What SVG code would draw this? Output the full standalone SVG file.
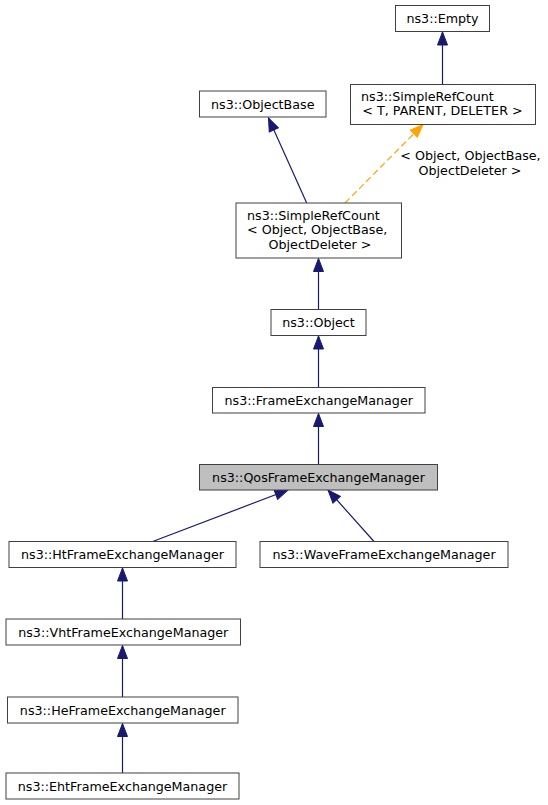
<svg xmlns="http://www.w3.org/2000/svg" width="548" height="805" viewBox="0 0 548 805">
<style>
.box{fill:#ffffff;stroke:#404040;stroke-width:1}
.hl{fill:#bfbfbf;stroke:#404040;stroke-width:1}
text{font-family:"DejaVu Sans","Noto Sans",sans-serif;font-size:12.7px;fill:#000000}
.m{text-anchor:middle}
.s{text-anchor:start}
.e{fill:none;stroke:#191970;stroke-width:1.2}
.d{fill:none;stroke:#ffa500;stroke-width:1.2;stroke-dasharray:6.5,3.5}
</style>
<defs>
<marker id="ab" markerUnits="userSpaceOnUse" markerWidth="14" markerHeight="12" refX="13" refY="5" orient="auto" viewBox="0 0 14 10" overflow="visible">
<path d="M0,0 L13,5 L0,10 z" fill="#191970" stroke="#191970" stroke-width="1"/>
</marker>
<marker id="ao" markerUnits="userSpaceOnUse" markerWidth="14" markerHeight="12" refX="13" refY="5" orient="auto" viewBox="0 0 14 10" overflow="visible">
<path d="M0,0 L13,5 L0,10 z" fill="#ffa500" stroke="#ffa500" stroke-width="1"/>
</marker>
</defs>
<g id="connectors">
<line class="e" x1="442.5" y1="84.5" x2="442.5" y2="32" marker-end="url(#ab)"/>
<line class="e" x1="306.7" y1="203" x2="268.5" y2="118" marker-end="url(#ab)"/>
<line class="d" x1="345" y1="203" x2="423" y2="124.5" marker-end="url(#ao)"/>
<text class="m" x="470.5" y="160">&lt; Object, ObjectBase,</text>
<text class="m" x="470" y="174.5">ObjectDeleter &gt;</text>
<line class="e" x1="318.5" y1="309.5" x2="318.5" y2="258.5" marker-end="url(#ab)"/>
<line class="e" x1="318.5" y1="387.5" x2="318.5" y2="336" marker-end="url(#ab)"/>
<line class="e" x1="318.5" y1="464.5" x2="318.5" y2="413.5" marker-end="url(#ab)"/>
<line class="e" x1="152.7" y1="541.5" x2="288" y2="490" marker-end="url(#ab)"/>
<line class="e" x1="374" y1="541.5" x2="328" y2="490" marker-end="url(#ab)"/>
<line class="e" x1="122.5" y1="619" x2="122.5" y2="568" marker-end="url(#ab)"/>
<line class="e" x1="122.5" y1="697" x2="122.5" y2="645.5" marker-end="url(#ab)"/>
<line class="e" x1="122.5" y1="773" x2="122.5" y2="723.5" marker-end="url(#ab)"/>
</g>
<g id="node-empty">
<rect class="box" x="395.5" y="5.5" width="94" height="26"/>
<text class="m" x="442.5" y="23">ns3::Empty</text>
</g>
<g id="node-simplerefcount-t">
<rect class="box" x="350.5" y="84.5" width="185" height="40"/>
<text class="s" x="361" y="100.5">ns3::SimpleRefCount</text>
<text class="m" x="442.5" y="115">&lt; T, PARENT, DELETER &gt;</text>
</g>
<g id="node-objectbase">
<rect class="box" x="199.5" y="91" width="126.5" height="26"/>
<text class="m" x="262.75" y="108.5">ns3::ObjectBase</text>
</g>
<g id="node-simplerefcount-object">
<rect class="box" x="236" y="203" width="165.5" height="55"/>
<text class="s" x="247" y="219.5">ns3::SimpleRefCount</text>
<text class="s" x="247" y="234">&lt; Object, ObjectBase,</text>
<text class="m" x="320" y="248.5">ObjectDeleter &gt;</text>
</g>
<g id="node-object">
<rect class="box" x="271" y="309.5" width="95" height="26"/>
<text class="m" x="318.5" y="327">ns3::Object</text>
</g>
<g id="node-fem">
<rect class="box" x="212.5" y="387.5" width="212.5" height="25.5"/>
<text class="m" x="318.75" y="405">ns3::FrameExchangeManager</text>
</g>
<g id="node-qosfem">
<rect class="hl" x="199.5" y="464.5" width="238" height="25.5"/>
<text class="m" x="318.5" y="482">ns3::QosFrameExchangeManager</text>
</g>
<g id="node-htfem">
<rect class="box" x="9" y="541.5" width="227" height="26"/>
<text class="m" x="122.5" y="559">ns3::HtFrameExchangeManager</text>
</g>
<g id="node-wavefem">
<rect class="box" x="260" y="541.5" width="248" height="26"/>
<text class="m" x="384" y="559">ns3::WaveFrameExchangeManager</text>
</g>
<g id="node-vhtfem">
<rect class="box" x="6" y="619" width="234.5" height="26"/>
<text class="m" x="123.25" y="636.5">ns3::VhtFrameExchangeManager</text>
</g>
<g id="node-hefem">
<rect class="box" x="7.5" y="697" width="230.5" height="26"/>
<text class="m" x="122.75" y="714.5">ns3::HeFrameExchangeManager</text>
</g>
<g id="node-ehtfem">
<rect class="box" x="6" y="773" width="233" height="26"/>
<text class="m" x="122.5" y="790.5">ns3::EhtFrameExchangeManager</text>
</g>
</svg>
